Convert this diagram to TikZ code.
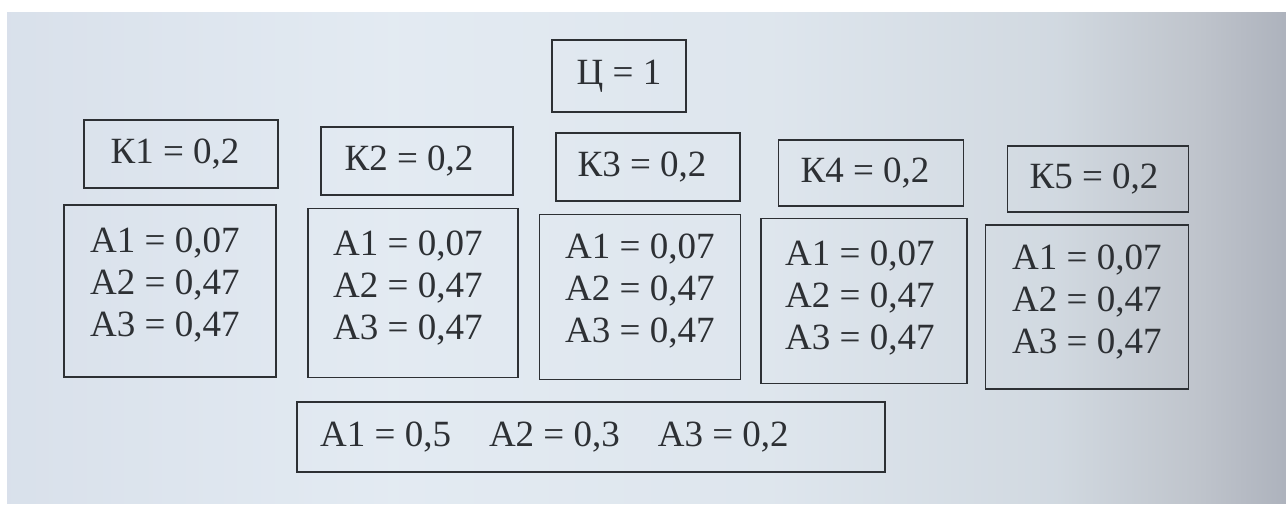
\documentclass[tikz,border=0pt]{standalone}
\usepackage{fontspec}
\setmainfont{Liberation Serif}
\definecolor{ink}{RGB}{45,48,52}
\pgfdeclarehorizontalshading{screen}{100bp}{
  rgb(0bp)=(0.85,0.88,0.92);
  rgb(25bp)=(0.85,0.88,0.92);
  rgb(40bp)=(0.89,0.92,0.95);
  rgb(55bp)=(0.87,0.90,0.93);
  rgb(66bp)=(0.82,0.85,0.88);
  rgb(71.5bp)=(0.75,0.77,0.80);
  rgb(75bp)=(0.68,0.70,0.74);
  rgb(100bp)=(0.68,0.70,0.74)}
\begin{document}
\begin{tikzpicture}[x=1pt,y=-1pt,
  box/.style={draw=ink,line width=1.4pt,inner sep=0pt},
  txt/.style={text=ink,inner sep=0pt,font=\fontsize{37}{42}\selectfont},
  ltxt/.style={txt,align=left}]
\useasboundingbox (0,0) rectangle (1286,506);
\fill[white] (0,0) rectangle (1286,506);
\shade[shading=screen] (7,12) rectangle (1286,503);
% top box
\node[box,minimum width=134pt,minimum height=72pt] (c) at (619,76) {};
\node[txt] (ct) at (c.center) {Ц = 1};
% K boxes
\node[box,minimum width=194pt,minimum height=68pt] (k1) at (181,154) {};
\node[txt] (k1t) at ([xshift=-6pt]k1.center) {К1 = 0,2};
\node[box,minimum width=192pt,minimum height=68pt] (k2) at (417,161) {};
\node[txt] (k2t) at ([xshift=-8pt]k2.center) {К2 = 0,2};
\node[box,minimum width=184pt,minimum height=68pt] (k3) at (648,167) {};
\node[txt] (k3t) at ([xshift=-6pt]k3.center) {К3 = 0,2};
\node[box,minimum width=185pt,minimum height=66pt] (k4) at (871,173) {};
\node[txt] (k4t) at ([xshift=-6pt]k4.center) {К4 = 0,2};
\node[box,minimum width=181pt,minimum height=66pt] (k5) at (1098,179) {};
\node[txt] (k5t) at ([xshift=-4pt]k5.center) {К5 = 0,2};
% A boxes
\node[box,minimum width=212pt,minimum height=172pt] (a1) at (170,291) {};
\node[ltxt,anchor=north west] (a1t) at (90,228) {A1 = 0,07\\A2 = 0,47\\A3 = 0,47};
\node[box,minimum width=210pt,minimum height=169pt] (a2) at (413,293) {};
\node[ltxt,anchor=north west] (a2t) at (333,231) {A1 = 0,07\\A2 = 0,47\\A3 = 0,47};
\node[box,minimum width=201pt,minimum height=165pt] (a3) at (640,297) {};
\node[ltxt,anchor=north west] (a3t) at (565,234) {A1 = 0,07\\A2 = 0,47\\A3 = 0,47};
\node[box,minimum width=206pt,minimum height=165pt] (a4) at (864,301) {};
\node[ltxt,anchor=north west] (a4t) at (785,241) {A1 = 0,07\\A2 = 0,47\\A3 = 0,47};
\node[box,minimum width=203pt,minimum height=164pt] (a5) at (1087,307) {};
\node[ltxt,anchor=north west] (a5t) at (1012,245) {A1 = 0,07\\A2 = 0,47\\A3 = 0,47};
% bottom box
\node[box,minimum width=588pt,minimum height=70pt] (b) at (591,437) {};
\node[txt,anchor=west] (bt) at (320,437) {A1 = 0,5\hspace{38pt}A2 = 0,3\hspace{38pt}A3 = 0,2};
\end{tikzpicture}
\end{document}
